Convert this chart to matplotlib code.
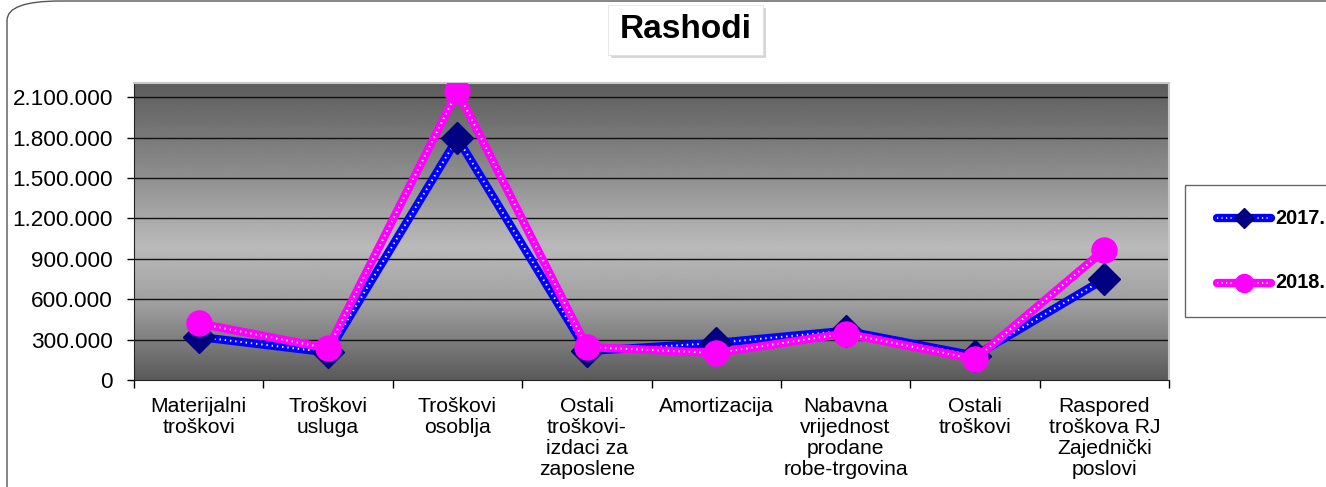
import numpy as np
import matplotlib
matplotlib.use("Agg")
import matplotlib.pyplot as plt
from matplotlib.patches import FancyBboxPatch, Rectangle
from matplotlib.ticker import FuncFormatter, FixedLocator

plt.rcParams['font.family'] = ['Liberation Sans', 'DejaVu Sans']

categories = ["Materijalni\ntroškovi", "Troškovi\nusluga", "Troškovi\nosoblja",
              "Ostali\ntroškovi-\nizdaci za\nzaposlene", "Amortizacija",
              "Nabavna\nvrijednost\nprodane\nrobe-trgovina", "Ostali\ntroškovi",
              "Raspored\ntroškova RJ\nZajednički\nposlovi"]
val_2017 = [320000, 205000, 1795000, 215000, 275000, 365000, 180000, 750000]
val_2018 = [420000, 235000, 2145000, 245000, 200000, 345000, 155000, 965000]
yticks = [0, 300000, 600000, 900000, 1200000, 1500000, 1800000, 2100000]

W, H = 1326, 487
fig = plt.figure(figsize=(W / 100, H / 100), dpi=100)

# chart area border (rounded, runs off the right and bottom edge)
border = FancyBboxPatch((7 / W, -0.2), 1.2, 1.2 - 1 / H,
                        boxstyle="round,pad=0,rounding_size=0.04",
                        transform=fig.transFigure, fill=False,
                        edgecolor="#555555", linewidth=1.0, clip_on=False)
fig.patches.append(border)

ax = fig.add_axes([134 / W, (H - 380) / H, (1169 - 134) / W, (380 - 83) / H])
x = np.arange(len(categories))
ax.set_xlim(-0.5, len(categories) - 0.5)
ax.set_ylim(0, 2205000)

# gray gradient background: dark at top and bottom, light in the middle
t = np.linspace(0, 1, 300)
shade = np.interp(t, [0, 0.25, 0.45, 0.7, 1.0], [0.35, 0.62, 0.73, 0.55, 0.36])
ax.imshow(shade[:, None], aspect="auto", cmap="gray", vmin=0, vmax=1,
          extent=[-0.5, len(categories) - 0.5, 2205000, 0], zorder=0,
          interpolation="bilinear")

for yv in yticks[1:]:
    ax.axhline(yv, color="#111111", linewidth=1.0, zorder=1)

# 2017 series
ax.plot(x, val_2017, color="#0000FF", linewidth=6, solid_capstyle="round", zorder=3)
ax.plot(x, val_2017, color="white", linewidth=1.4, linestyle=(0, (0.7, 2.0)), zorder=4)
ax.plot(x, val_2017, linestyle="none", marker="D", markersize=16,
        color="#000080", zorder=5)
# 2018 series
ax.plot(x, val_2018, color="#FF00FF", linewidth=6, solid_capstyle="round", zorder=6)
ax.plot(x, val_2018, color="white", linewidth=1.4, linestyle=(0, (0.7, 2.0)), zorder=7)
ax.plot(x, val_2018, linestyle="none", marker="o", markersize=18,
        color="#FF00FF", zorder=8)

ax.set_yticks(yticks)
ax.yaxis.set_major_formatter(FuncFormatter(lambda v, p: f"{int(v):,}".replace(",", ".")))
ax.tick_params(axis="y", direction="out", length=5, width=1, labelsize=16.2, pad=10)

ax.set_xticks(x)
ax.set_xticklabels(categories, fontsize=15.2, linespacing=1.15)
ax.xaxis.set_minor_locator(FixedLocator(np.arange(-0.5, len(categories), 1.0)))
ax.tick_params(axis="x", which="major", length=0, pad=12)
ax.tick_params(axis="x", which="minor", direction="out", length=6, width=1)

for s in ["top", "right"]:
    ax.spines[s].set_color("#c8c8c8")
    ax.spines[s].set_linewidth(1.5)
ax.spines["left"].set_color("#222222")
ax.spines["bottom"].set_color("#222222")

# title in a white box with shadow
fig.patches.append(Rectangle((611 / W, 1 - 58 / H), 155 / W, 50 / H,
                             transform=fig.transFigure, facecolor="#bbbbbb",
                             edgecolor="none", alpha=0.6))
fig.patches.append(Rectangle((608 / W, 1 - 55 / H), 155 / W, 50 / H,
                             transform=fig.transFigure, facecolor="white",
                             edgecolor="#dddddd", linewidth=0.5))
fig.text(686 / W, 1 - 30 / H, "Rashodi", fontsize=24, fontweight="bold",
         ha="center", va="center")

# legend box
fig.patches.append(Rectangle((1185 / W, 1 - 317 / H), 200 / W, 132 / H,
                             transform=fig.transFigure, facecolor="white",
                             edgecolor="#666666", linewidth=1.0))
for yy, col, mk, mc, ms, lab in [(218, "#0000FF", "D", "#000080", 10, "2017."),
                                  (283, "#FF00FF", "o", "#FF00FF", 13, "2018.")]:
    yf = 1 - yy / H
    fig.add_artist(plt.Line2D([1217 / W, 1271 / W], [yf, yf], color=col,
                              linewidth=6, solid_capstyle="round",
                              transform=fig.transFigure))
    fig.add_artist(plt.Line2D([1217 / W, 1271 / W], [yf, yf], color="white",
                              linewidth=1.2, linestyle=(0, (0.7, 2.0)),
                              transform=fig.transFigure))
    fig.add_artist(plt.Line2D([1244 / W], [yf], marker=mk, markersize=ms,
                              color=mc, linestyle="none",
                              transform=fig.transFigure))
    fig.text(1275 / W, yf, lab, fontsize=14.3, fontweight="bold",
             ha="left", va="center")

fig.savefig("out.png", dpi=100)
